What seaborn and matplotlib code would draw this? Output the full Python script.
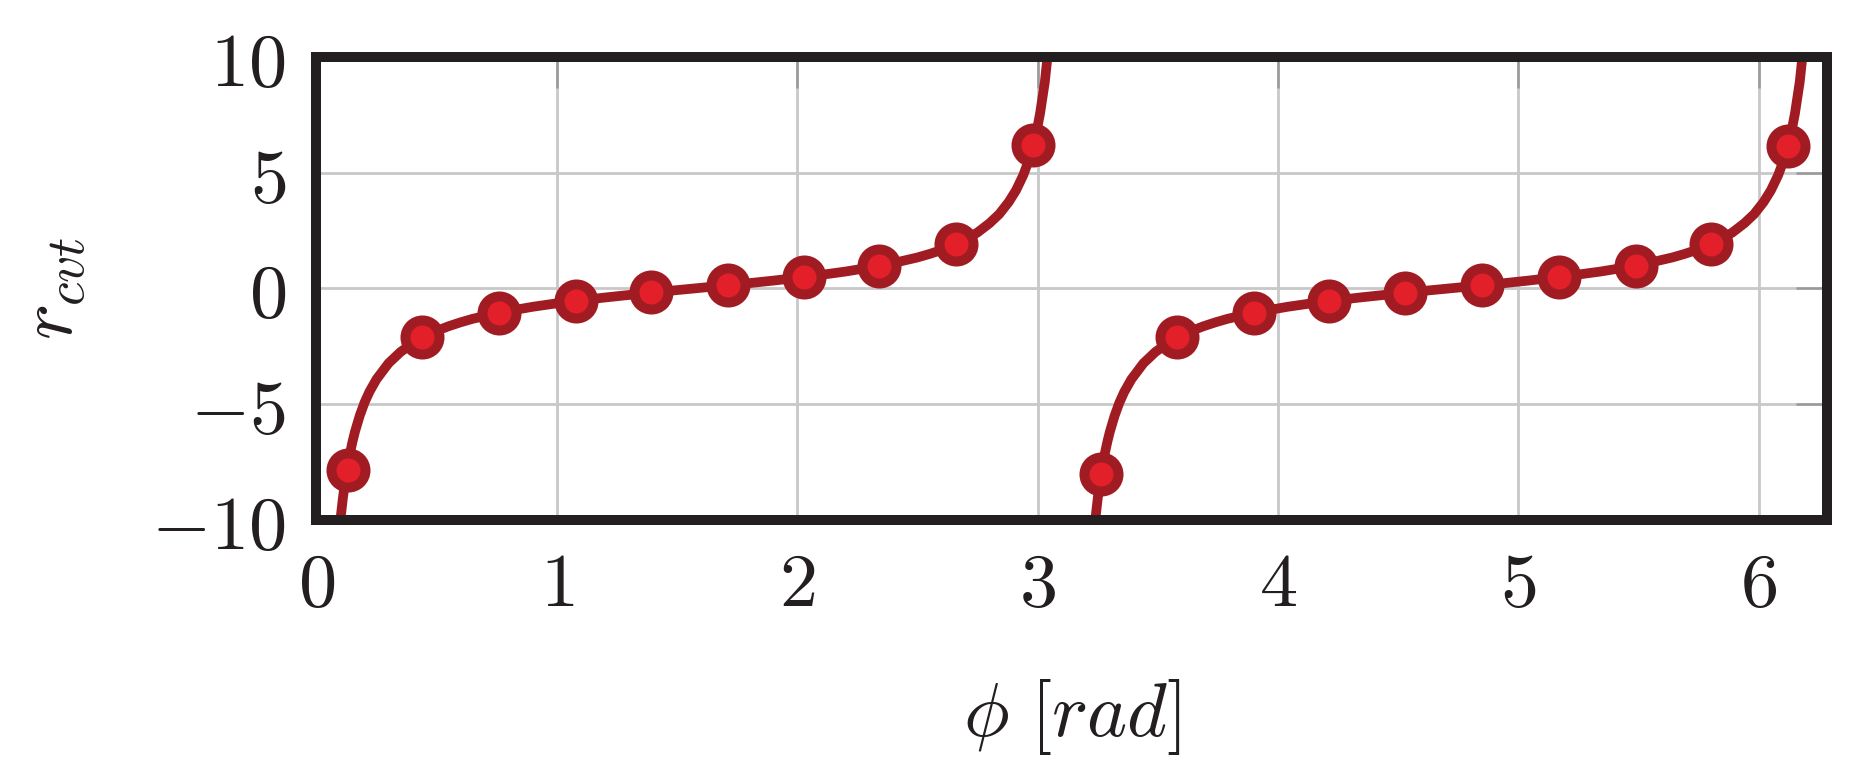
import numpy as np
import pandas as pd
import matplotlib
import matplotlib.pyplot as plt
import seaborn as sns

plt.switch_backend('Agg')

# curve, first branch (0 .. pi)
phi_curve_1 = [0.09, 0.10, 0.11, 0.12, 0.13, 0.14, 0.15, 0.16, 0.18, 0.20, 0.22, 0.25,
               0.30, 0.35, 0.40, 0.45, 0.50, 0.55, 0.60, 0.65, 0.70, 0.80, 0.90, 1.00,
               1.10, 1.20, 1.30, 1.40, 1.50, 1.60, 1.70, 1.80, 1.90, 2.00, 2.10, 2.20,
               2.30, 2.40, 2.50, 2.55, 2.60, 2.65, 2.70, 2.75, 2.80, 2.84, 2.88, 2.91,
               2.94, 2.96, 2.98, 3.00, 3.01, 3.03, 3.05]
r_curve_1 = [-11.1, -9.97, -9.06, -8.29, -7.66, -7.10, -6.62, -6.20, -5.50, -4.93, -4.47, -3.92,
             -3.23, -2.74, -2.37, -2.07, -1.83, -1.63, -1.46, -1.31, -1.19, -0.97, -0.79, -0.64,
             -0.51, -0.39, -0.28, -0.17, -0.07, 0.03, 0.13, 0.23, 0.34, 0.46, 0.59, 0.73,
             0.90, 1.10, 1.34, 1.49, 1.66, 1.87, 2.13, 2.42, 2.82, 3.21, 3.74, 4.24,
             4.89, 5.45, 6.14, 7.02, 7.56, 8.93, 10.9]

# second branch (pi .. 2pi)
phi_curve_2 = [3.23, 3.24, 3.25, 3.26, 3.27, 3.28, 3.29, 3.30, 3.32, 3.34, 3.36, 3.39,
               3.44, 3.49, 3.54, 3.59, 3.64, 3.69, 3.74, 3.79, 3.84, 3.94, 4.04, 4.14,
               4.24, 4.34, 4.44, 4.54, 4.64, 4.74, 4.84, 4.94, 5.04, 5.14, 5.24, 5.34,
               5.44, 5.54, 5.64, 5.69, 5.74, 5.79, 5.84, 5.89, 5.94, 5.98, 6.02, 6.05,
               6.08, 6.10, 6.12, 6.14, 6.15, 6.17, 6.19]
r_curve_2 = [-11.1, -9.97, -9.06, -8.29, -7.66, -7.10, -6.62, -6.20, -5.50, -4.93, -4.47, -3.92,
             -3.23, -2.74, -2.37, -2.07, -1.83, -1.63, -1.46, -1.31, -1.19, -0.97, -0.79, -0.64,
             -0.51, -0.39, -0.28, -0.17, -0.07, 0.03, 0.13, 0.23, 0.34, 0.46, 0.59, 0.73,
             0.90, 1.10, 1.34, 1.49, 1.66, 1.87, 2.13, 2.42, 2.82, 3.21, 3.74, 4.24,
             4.89, 5.45, 6.14, 7.02, 7.56, 8.93, 10.9]

# sample points (markers)
phi_pts = [0.13, 0.44, 0.76, 1.08, 1.39, 1.71, 2.03, 2.34, 2.66, 2.98,
           3.265, 3.58, 3.90, 4.21, 4.53, 4.85, 5.17, 5.49, 5.80, 6.12]
r_pts = [-7.83, -2.10, -1.06, -0.55, -0.16, 0.15, 0.49, 0.99, 1.93, 6.18,
         -8.00, -2.10, -1.06, -0.55, -0.19, 0.13, 0.49, 0.97, 1.91, 6.14]

x_ticks = [0, 1, 2, 3, 4, 5, 6]
x_ticklabels = ['$0$', '$1$', '$2$', '$3$', '$4$', '$5$', '$6$']
y_ticks = [-10, -5, 0, 5, 10]
y_ticklabels = ['$-10$', '$-5$', '$0$', '$5$', '$10$']

line_col = '#a01c22'
fill_col = '#e3202a'
spine_col = '#231f20'

sns.set_style('white')
plt.rcParams['mathtext.fontset'] = 'cm'
plt.rcParams['font.family'] = ['DejaVu Sans']

fig = plt.figure(figsize=(18.58, 7.73), dpi=100)
ax = fig.add_axes([0.1703, 0.3273, 0.8130, 0.5990])

df1 = pd.DataFrame({'phi': phi_curve_1, 'r': r_curve_1})
df2 = pd.DataFrame({'phi': phi_curve_2, 'r': r_curve_2})
dfp = pd.DataFrame({'phi': phi_pts, 'r': r_pts})

for d in (df1, df2):
    sns.lineplot(data=d, x='phi', y='r', ax=ax, color=line_col, linewidth=7,
                 sort=False, estimator=None, zorder=2)
sns.scatterplot(data=dfp, x='phi', y='r', ax=ax, s=600, color=fill_col,
                edgecolor=line_col, linewidth=7.2, zorder=3)

ax.set_xlim(0, 2 * np.pi)
ax.set_ylim(-10, 10)
ax.set_xticks(x_ticks)
ax.set_xticklabels(x_ticklabels)
ax.set_yticks(y_ticks)
ax.set_yticklabels(y_ticklabels)

ax.set_axisbelow(True)
ax.grid(True, color='#c8c8c8', linewidth=2)
ax.tick_params(direction='in', length=22, width=1.8, color='#9a9a9a',
               top=True, right=True, labelsize=55, labelcolor=spine_col)
ax.tick_params(axis='x', pad=20)
ax.tick_params(axis='y', pad=22)

for sp in ax.spines.values():
    sp.set_linewidth(7.2)
    sp.set_color(spine_col)
    sp.set_zorder(4)

ax.set_xlabel(r'$\phi\ [rad]$', fontsize=55, color=spine_col, labelpad=40)
ax.set_ylabel(r'$r_{cvt}$', fontsize=55, color=spine_col, labelpad=45)

fig.savefig('out.png', dpi=100)
